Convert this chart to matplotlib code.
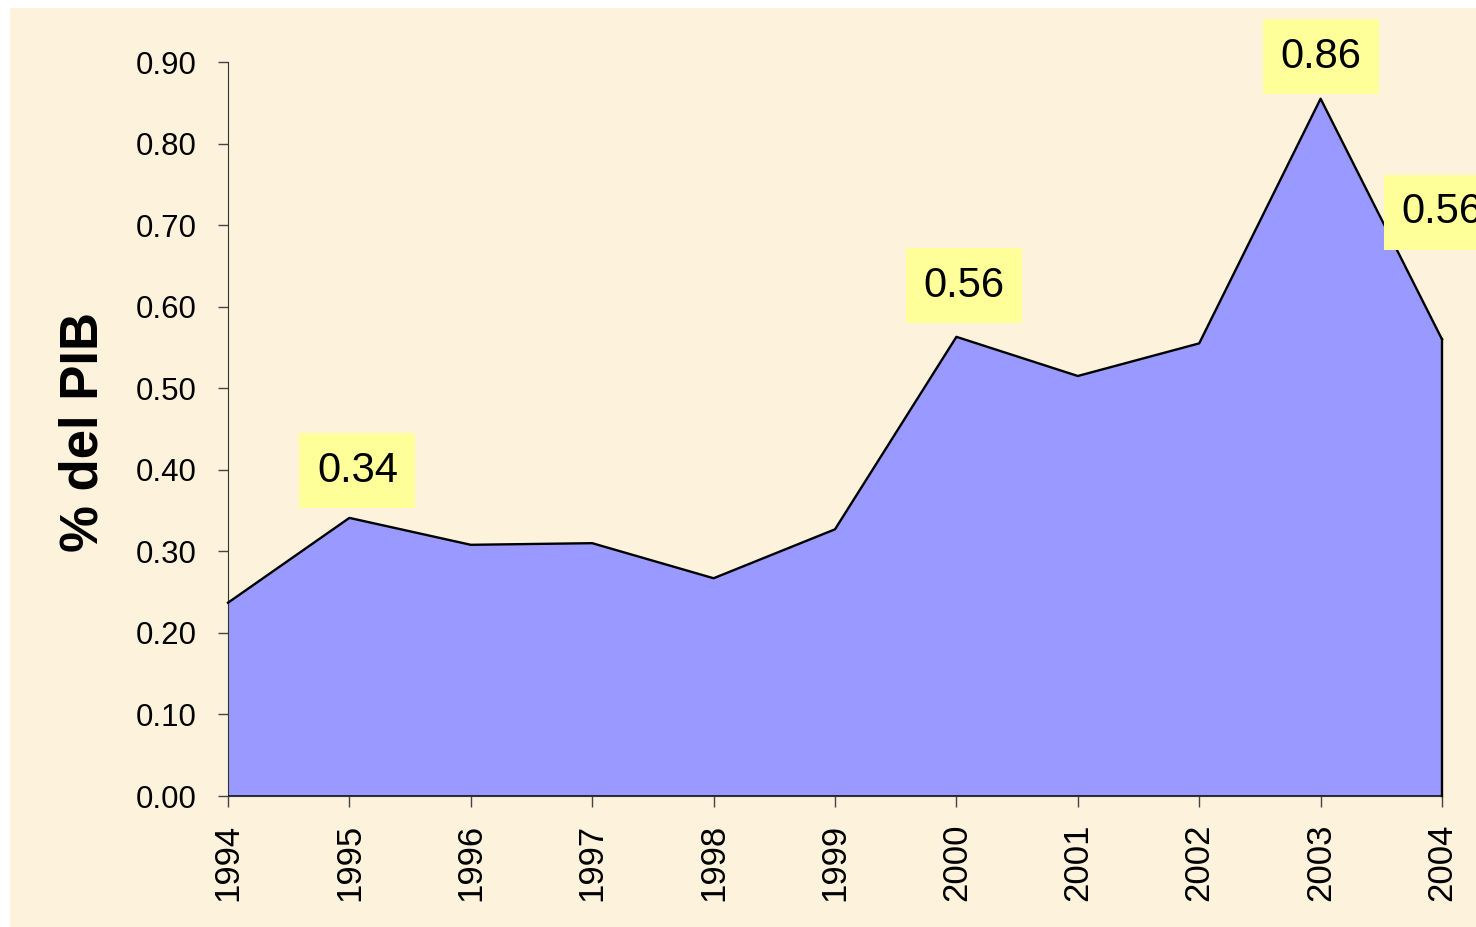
import matplotlib.pyplot as plt
from matplotlib.patches import Rectangle

# --- data ---
years = ['1994', '1995', '1996', '1997', '1998', '1999',
         '2000', '2001', '2002', '2003', '2004']
pct_pib = [0.237, 0.341, 0.308, 0.310, 0.267, 0.327,
           0.563, 0.515, 0.555, 0.855, 0.560]

# labelled points: index -> (text, offset in pixels)
label_idx = [1, 6, 9, 10]
label_txt = ['0.34', '0.56', '0.86', '0.56']
label_off = [(8, 47), (8, 51), (0, 42), (0, 127)]

plt.rcParams['font.family'] = ['Liberation Sans', 'DejaVu Sans']

fig = plt.figure(figsize=(14.76, 9.27), dpi=100)
fig.patch.set_facecolor('white')
# beige backdrop, leaving the thin white strip top/left
fig.patches.append(Rectangle((10 / 1476, 0), 1, 1 - 8 / 927,
                             transform=fig.transFigure, facecolor='#fdf3dc',
                             edgecolor='none', zorder=-10))

ax = fig.add_axes([228 / 1476, 1 - 796 / 927, 1214 / 1476, (796 - 62) / 927])
ax.patch.set_visible(False)

x = list(range(len(years)))
ax.fill_between(x, pct_pib, 0, facecolor='#9999ff', edgecolor='none', zorder=2)
ax.plot(x, pct_pib, color='black', linewidth=1.7, zorder=3, clip_on=False)
ax.plot([x[-1], x[-1]], [0, pct_pib[-1]], color='black', linewidth=1.7,
        zorder=3, clip_on=False)
ax.axhline(0, color='black', linewidth=1.8, zorder=4)

ax.set_xlim(0, len(years) - 1)
ax.set_ylim(0, 0.9)
ax.set_yticks([i / 10 for i in range(10)])
ax.set_yticklabels([f'{i / 10:.2f}' for i in range(10)], fontsize=22.5)
ax.set_xticks(x)
ax.set_xticklabels(years, rotation=90, fontsize=25)
ax.tick_params(axis='y', length=7.5, width=1, color='#444444', pad=15)
ax.tick_params(axis='x', length=8, width=1, color='#444444', pad=12)

for side in ['top', 'right']:
    ax.spines[side].set_visible(False)
ax.spines['left'].set_color('#333333')
ax.spines['bottom'].set_color('#333333')

fig.text(84 / 1476, 1 - 432 / 927, '% del PIB', rotation=90, fontsize=38,
         fontweight='bold', ha='center', va='center')

for i, txt, off in zip(label_idx, label_txt, label_off):
    ax.annotate(txt, xy=(x[i], pct_pib[i]), xytext=off,
                textcoords='offset pixels', ha='center', va='center',
                fontsize=30, annotation_clip=False, zorder=6,
                bbox=dict(boxstyle='square,pad=0.42', facecolor='#ffff99',
                          edgecolor='none'))

fig.savefig('out.png', dpi=100)
